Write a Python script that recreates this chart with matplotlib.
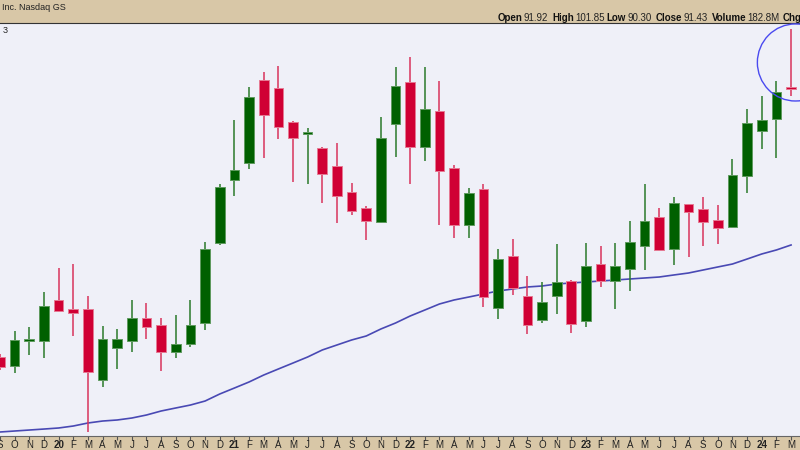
"""Monthly candlestick chart with moving average, Sep 2019 - Mar 2024."""

import matplotlib

matplotlib.use("Agg")
import matplotlib.pyplot as plt
import numpy as np
from matplotlib.patches import Ellipse

plt.rcParams["font.family"] = ["Liberation Sans", "DejaVu Sans"]

# Month tick labels, Sep 2019 .. Mar 2024
month_labels = [
    "S", "O", "N", "D",
    "20", "F", "M", "A", "M", "J", "J", "A", "S", "O", "N", "D",
    "21", "F", "M", "A", "M", "J", "J", "A", "S", "O", "N", "D",
    "22", "F", "M", "A", "M", "J", "J", "A", "S", "O", "N", "D",
    "23", "F", "M", "A", "M", "J", "J", "A", "S", "O", "N", "D",
    "24", "F", "M",
]

opens = [
    45.30, 43.75, 48.06, 48.06,
    55.13, 53.57, 53.57, 41.33, 46.85, 48.06, 52.02, 50.82, 46.16, 47.54, 51.16, 64.95,
    75.82, 78.75, 93.06, 91.68, 85.82, 83.75, 81.33, 78.23, 73.75, 70.99, 68.57, 85.47,
    92.71, 81.51, 87.71, 77.88, 68.06, 74.26, 53.75, 62.71, 55.82, 51.68, 55.82, 58.40,
    51.51, 61.33, 58.40, 60.47, 64.44, 69.44, 63.92, 71.68, 70.82, 68.92, 67.71, 76.51,
    84.26, 86.33, 91.92,
]
highs = [
    45.82, 49.78, 50.47, 56.51,
    60.64, 61.33, 55.82, 50.64, 50.13, 55.13, 54.61, 52.02, 52.54, 55.13, 65.13, 75.13,
    86.16, 91.85, 94.44, 95.47, 85.99, 84.78, 81.51, 82.19, 75.30, 71.33, 86.68, 95.30,
    97.02, 95.30, 92.88, 78.40, 74.44, 75.13, 63.92, 65.64, 59.26, 58.23, 64.78, 58.57,
    64.95, 64.44, 64.95, 68.75, 75.13, 70.99, 72.88, 71.68, 72.88, 71.51, 79.44, 88.06,
    90.30, 92.88, 101.85,
]
lows = [
    43.06, 42.54, 45.64, 45.13,
    53.06, 48.92, 32.37, 40.13, 43.23, 46.16, 48.40, 42.88, 45.13, 47.02, 49.95, 64.61,
    73.06, 77.71, 79.61, 82.88, 75.47, 75.13, 71.85, 68.40, 69.78, 65.47, 68.40, 79.78,
    75.13, 79.09, 68.06, 65.82, 65.82, 53.92, 51.85, 55.99, 49.26, 51.16, 52.71, 49.44,
    50.47, 57.37, 53.57, 56.68, 60.30, 63.57, 61.16, 62.54, 64.44, 64.78, 67.54, 73.57,
    81.16, 79.61, 90.30,
]
closes = [
    43.57, 48.23, 48.23, 54.09,
    53.23, 52.88, 42.71, 48.40, 48.40, 52.02, 50.47, 46.16, 47.54, 50.82, 63.92, 74.61,
    77.54, 90.13, 87.02, 84.95, 83.06, 84.09, 76.85, 73.06, 70.47, 68.75, 83.06, 92.02,
    81.51, 88.06, 77.37, 68.06, 73.57, 55.64, 62.19, 57.19, 50.82, 54.78, 58.23, 50.99,
    60.99, 58.40, 60.99, 65.13, 68.75, 63.75, 71.85, 70.30, 68.57, 67.54, 76.68, 85.64,
    86.16, 90.99, 91.43,
]
moving_avg = [
    32.37, 32.54, 32.71, 32.88,
    33.06, 33.40, 33.92, 34.26, 34.44, 34.78, 35.30, 35.99, 36.51, 37.02, 37.71, 38.92,
    39.95, 40.99, 42.19, 43.23, 44.26, 45.30, 46.51, 47.37, 48.23, 48.92, 50.13, 51.16,
    52.37, 53.40, 54.44, 55.13, 55.64, 56.16, 56.68, 57.02, 57.37, 57.54, 57.88, 58.06,
    58.23, 58.40, 58.57, 58.75, 58.92, 59.09, 59.44, 59.78, 60.30, 60.82, 61.33, 62.19,
    63.06, 63.75, 64.61,
]

header_left = "Inc. Nasdaq GS"
header_fields = [("Open", "91.92"), ("High", "101.85"), ("Low", "90.30"),
                 ("Close", "91.43"), ("Volume", "182.8M"), ("Chg", "")]

BEIGE = "#d8c7a7"
PLOT_BG = "#eff0f8"
UP = "#006000"
UP_EDGE = "#5f9a5f"
DOWN = "#d00034"
DOWN_EDGE = "#e67a93"

o = np.array(opens)
h = np.array(highs)
lo = np.array(lows)
c = np.array(closes)
x = np.arange(len(o))
up = c >= o

fig = plt.figure(figsize=(8, 4.5), dpi=100, facecolor=BEIGE)
ax = fig.add_axes([0, 14 / 450, 1, 413 / 450])
ax.set_facecolor(PLOT_BG)
ax.set_xlim(0.116, 54.61)
ax.set_ylim(31.68, 102.88)

# moving average
ax.plot(x, moving_avg, color="#2c2ca8", lw=1.2, alpha=0.85, zorder=2)

# wicks
ax.vlines(x[up], lo[up], h[up], color="#2a7a2a", lw=1.1, zorder=3)
ax.vlines(x[~up], lo[~up], h[~up], color="#d8345c", lw=1.1, zorder=3)

# bodies
body_h = np.maximum(np.abs(c - o), 0.3)
body_b = np.minimum(o, c)
ax.bar(x[up], body_h[up], bottom=body_b[up], width=0.66, color=UP,
       edgecolor=UP_EDGE, linewidth=0.7, zorder=4)
ax.bar(x[~up], body_h[~up], bottom=body_b[~up], width=0.66, color=DOWN,
       edgecolor=DOWN_EDGE, linewidth=0.7, zorder=4)

# highlight circle around the last candle
last = len(o) - 1
ax.add_patch(Ellipse((last + 0.3, (h[last] + lo[last]) / 2), width=5.2,
                     height=(h[last] - lo[last]) * 1.15, fill=False,
                     edgecolor="#4a4af0", lw=1.0, zorder=5, clip_on=False))

ax.set_xticks(x)
ax.set_xticklabels(month_labels)
for lbl in ax.get_xticklabels():
    if lbl.get_text().isdigit():
        lbl.set_fontweight("bold")
ax.tick_params(axis="x", direction="out", length=3, width=0.8,
               color="#555555", labelsize=7, pad=0, labelcolor="#222222")
ax.set_yticks([])
for side in ("left", "right"):
    ax.spines[side].set_visible(False)
ax.spines["top"].set_color("#333333")
ax.spines["bottom"].set_color("#666666")

ax.text(0.003, 0.993, "3", transform=ax.transAxes, fontsize=6.5,
        va="top", ha="left", color="#222222")

# header
fig.text(2 / 800, 1 - 8 / 450, header_left, fontsize=6.5, va="center",
         ha="left", color="#222222")
label_x = [498, 552, 606, 656, 712, 783]
value_x = [524, 575, 628, 684, 747, 0]
for (name, val), lx, vx in zip(header_fields, label_x, value_x):
    fig.text(lx / 800, 1 - 18 / 450, name, fontsize=7, fontweight="bold",
             va="center", ha="left", color="#111111")
    if val:
        fig.text(vx / 800, 1 - 18 / 450, val, fontsize=7, va="center",
                 ha="left", color="#222222")

fig.savefig("out.png", dpi=100, facecolor=BEIGE)
